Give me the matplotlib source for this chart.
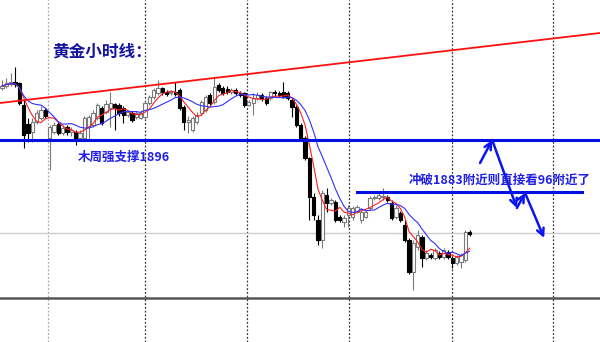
import matplotlib.pyplot as plt
import pandas as pd

plt.rcParams['font.family'] = ['Noto Sans CJK SC', 'DejaVu Sans']

# 黄金 H1 K线 (价格读自原图)
opens = [1909.0, 1909.5, 1910.0, 1910.5, 1910.25, 1904.75, 1900.0, 1898.0, 1900.5, 1901.5,
         1903.5, 1896.5, 1898.0, 1900.0, 1897.75, 1899.25, 1898.0, 1898.0, 1896.5, 1896.5,
         1899.25, 1899.75, 1901.5, 1904.0, 1903.0, 1904.0, 1905.0, 1904.75, 1904.0, 1902.25,
         1902.75, 1901.75, 1901.5, 1901.75, 1905.25, 1906.75, 1907.75, 1909.0, 1908.0, 1907.75,
         1908.0, 1908.5, 1904.25, 1900.5, 1898.5, 1900.5, 1902.75, 1903.5, 1907.25, 1905.5,
         1909.75, 1909.0, 1908.75, 1908.0, 1908.5, 1907.75, 1907.75, 1904.75, 1905.25, 1906.5,
         1907.25, 1906.5, 1906.5, 1908.0, 1907.75, 1908.0, 1907.75, 1906.0, 1904.25, 1899.75,
         1896.5, 1891.5, 1881.75, 1876.0, 1871.0, 1882.25, 1880.25, 1880.5, 1876.75, 1875.5,
         1877.25, 1876.75, 1878.0, 1876.0, 1876.75, 1879.0, 1881.5, 1881.5, 1881.75, 1881.75,
         1880.25, 1876.75, 1877.75, 1874.75, 1871.0, 1863.0, 1869.25, 1871.75, 1866.5, 1867.25,
         1866.5, 1867.75, 1866.75, 1868.0, 1866.5, 1865.25, 1865.5, 1866.0, 1873.0]
highs = [1911.0, 1911.5, 1912.75, 1914.25, 1910.5, 1906.0, 1901.5, 1901.5, 1903.5, 1904.5,
         1904.0, 1899.75, 1900.5, 1900.5, 1899.75, 1899.75, 1899.25, 1898.5, 1898.5, 1902.0,
         1902.25, 1903.5, 1905.25, 1904.5, 1906.0, 1908.0, 1905.25, 1905.25, 1904.5, 1903.5,
         1903.25, 1903.25, 1903.5, 1905.75, 1907.25, 1909.0, 1911.0, 1909.25, 1908.5, 1908.5,
         1910.5, 1909.0, 1904.75, 1902.0, 1902.0, 1903.0, 1906.0, 1907.25, 1907.75, 1911.75,
         1910.25, 1909.5, 1909.5, 1909.0, 1909.0, 1908.25, 1908.0, 1906.0, 1907.75, 1908.0,
         1907.75, 1907.0, 1908.25, 1908.5, 1908.25, 1910.5, 1908.25, 1906.5, 1904.75, 1900.25,
         1897.0, 1891.75, 1882.75, 1877.25, 1883.5, 1884.0, 1881.5, 1881.0, 1877.25, 1877.25,
         1879.75, 1879.5, 1879.75, 1879.0, 1878.5, 1882.0, 1882.25, 1882.75, 1884.0, 1882.25,
         1881.0, 1879.75, 1878.25, 1876.0, 1871.5, 1871.0, 1873.5, 1872.25, 1868.5, 1867.75,
         1869.0, 1868.25, 1869.0, 1868.5, 1867.0, 1867.25, 1867.75, 1873.5, 1873.5]
lows = [1908.5, 1909.0, 1909.5, 1909.25, 1904.75, 1894.0, 1895.5, 1895.5, 1900.0, 1901.0,
        1901.5, 1888.5, 1897.5, 1897.25, 1897.25, 1897.25, 1897.0, 1894.75, 1896.0, 1896.0,
        1896.0, 1899.25, 1901.0, 1899.75, 1902.5, 1899.25, 1898.5, 1902.0, 1900.25, 1901.75,
        1900.5, 1901.25, 1901.25, 1901.25, 1904.75, 1906.25, 1907.25, 1907.25, 1907.0, 1907.25,
        1907.0, 1903.5, 1898.5, 1897.75, 1898.0, 1900.0, 1902.25, 1903.0, 1904.75, 1905.0,
        1908.0, 1907.25, 1907.5, 1907.5, 1907.25, 1906.75, 1904.25, 1904.5, 1902.25, 1906.0,
        1905.75, 1904.75, 1906.0, 1907.0, 1906.75, 1906.5, 1906.0, 1901.75, 1899.25, 1896.0,
        1891.0, 1876.0, 1876.0, 1869.75, 1869.0, 1878.0, 1879.75, 1875.5, 1875.5, 1874.25,
        1874.25, 1876.0, 1877.75, 1875.25, 1876.5, 1878.5, 1881.0, 1881.0, 1881.0, 1880.5,
        1876.0, 1876.25, 1875.5, 1870.5, 1862.5, 1858.5, 1868.5, 1864.25, 1866.0, 1866.25,
        1866.0, 1866.25, 1866.25, 1866.25, 1864.0, 1864.75, 1864.0, 1865.5, 1872.0]
closes = [1909.5, 1910.25, 1910.5, 1910.0, 1905.25, 1897.25, 1897.75, 1900.5, 1902.75, 1903.5,
          1902.0, 1899.25, 1899.75, 1897.75, 1899.0, 1898.0, 1898.5, 1896.5, 1897.75, 1901.5,
          1901.75, 1902.75, 1904.75, 1900.25, 1905.0, 1905.25, 1904.0, 1902.75, 1902.25, 1903.0,
          1901.0, 1902.75, 1902.75, 1905.25, 1906.75, 1908.5, 1909.0, 1908.0, 1907.5, 1908.0,
          1907.5, 1904.0, 1900.5, 1901.0, 1901.5, 1902.25, 1905.5, 1906.75, 1905.25, 1909.25,
          1908.5, 1907.75, 1908.0, 1908.5, 1907.75, 1907.25, 1904.75, 1905.5, 1906.5, 1907.25,
          1906.5, 1905.25, 1908.0, 1907.75, 1907.25, 1906.75, 1906.5, 1904.25, 1899.75, 1896.5,
          1891.5, 1881.75, 1877.25, 1871.0, 1882.75, 1880.25, 1881.0, 1876.0, 1876.0, 1876.5,
          1879.0, 1879.0, 1879.25, 1878.0, 1878.0, 1881.5, 1881.75, 1882.25, 1882.0, 1881.0,
          1876.5, 1879.0, 1876.0, 1871.0, 1863.0, 1870.25, 1872.25, 1866.5, 1867.75, 1866.75,
          1868.5, 1866.75, 1868.5, 1866.75, 1865.25, 1866.75, 1867.25, 1873.0, 1872.5]

support = 1896        # 木周强支撑
breakout = 1883       # 冲破1883
trend_x = [-0.46, 138.1]
trend_y = [1905.25, 1922.75]
grid_x = [10.6, 33.0, 56.6, 80.1, 103.9, 127.3]
arrow_x = [110.4, 113.2, 118.9, 120.8, 125.2]
arrow_y = [1890.25, 1896.0, 1879.0, 1882.75, 1871.5]

df = pd.DataFrame({'o': opens, 'h': highs, 'l': lows, 'c': closes})
df['ma_fast'] = df['c'].rolling(5, min_periods=1).mean()
df['ma_slow'] = df['c'].rolling(10, min_periods=1).mean()
x = list(range(len(df)))

fig = plt.figure(figsize=(6, 3.42), dpi=100)
ax = fig.add_axes([0, 0, 1, 1])
ax.set_xlim(-0.46, 138.1)
ax.set_ylim(1845.5, 1931)
ax.axis('off')

for i, gx in enumerate(grid_x):
    ax.axvline(gx, color='#aaaaaa' if i == 0 else '#333333', lw=0.9,
               linestyle=(0, (1.5, 1.5)), zorder=1)
ax.axhline(1872.75, color='#cccccc', lw=1, zorder=1)
ax.axhline(1856.5, color='#555555', lw=1.8, zorder=1)

for i, r in df.iterrows():
    up = r['c'] >= r['o']
    col = '#7a7a7a' if up else 'black'
    ax.vlines(i, r['l'], r['h'], color=col, lw=0.8, zorder=2)
    body = max(abs(r['c'] - r['o']), 0.3)
    ax.bar(i, body, bottom=min(r['o'], r['c']), width=0.75,
           color='white' if up else 'black', edgecolor=col, lw=0.8, zorder=3)

ax.plot(x, df['ma_fast'], color='#ff2020', lw=0.8, zorder=4)
ax.plot(x, df['ma_slow'], color='#3030ff', lw=0.8, zorder=4)

ax.plot(trend_x, trend_y, color='#ff1010', lw=1.3, zorder=5)
ax.axhline(support, color='#0010e0', lw=2.2, zorder=5)
ax.plot([82.0, 133.9], [breakout, breakout], color='#0010e0', lw=2.2, zorder=5)

for k in range(len(arrow_x) - 1):
    ax.annotate('', xy=(arrow_x[k + 1], arrow_y[k + 1]), xytext=(arrow_x[k], arrow_y[k]),
                arrowprops=dict(arrowstyle='->,head_length=0.5,head_width=0.25',
                                color='#0a14f0', lw=1.8, shrinkA=0, shrinkB=0), zorder=6)

ax.text(11.5, 1918, '黄金小时线：', fontsize=12, fontweight='bold', color='#1414a0',
        va='center', ha='left', zorder=7)
ax.text(17.5, 1891.75, '木周强支撑1896', fontsize=9, fontweight='bold', color='#2020e6',
        va='center', ha='left', zorder=7)
ax.text(94.0, 1886.0, '冲破1883附近则直接看96附近了', fontsize=9, fontweight='bold',
        color='#2020e6', va='center', ha='left', zorder=7)

fig.savefig('out.png', dpi=100)
